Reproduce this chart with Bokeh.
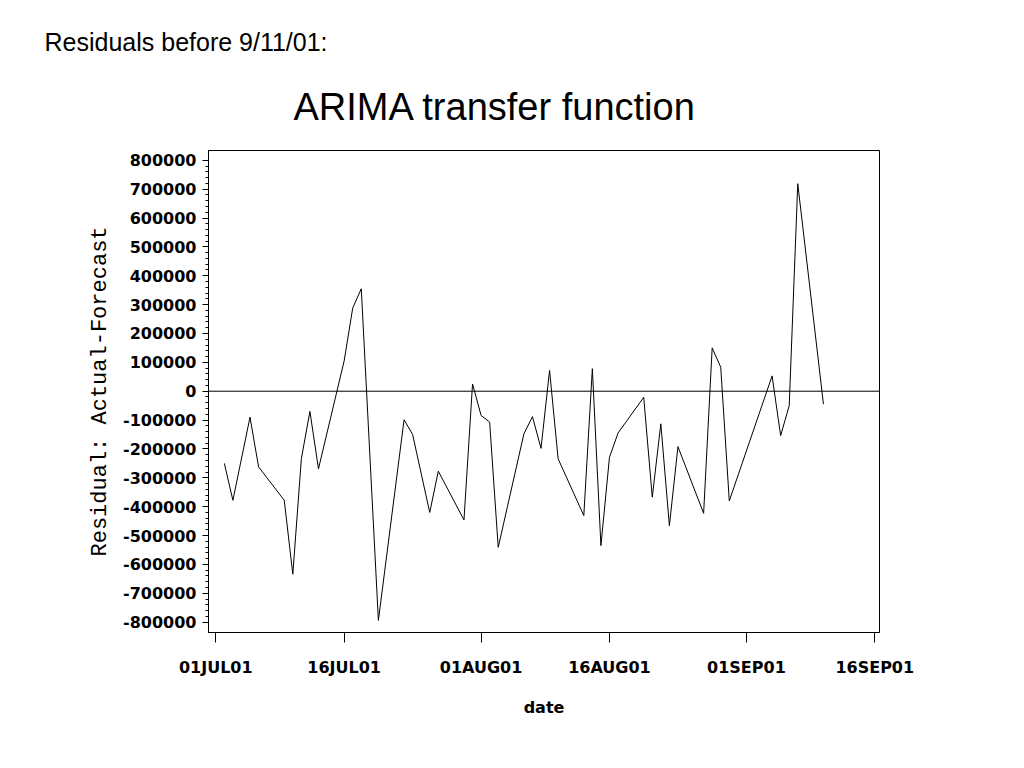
import pandas as pd
from bokeh.plotting import figure
from bokeh.models import Range1d, FixedTicker, Span, Title
from bokeh.embed import file_html
from bokeh.resources import INLINE

# ---- data ----
dates = [
    "2001-07-02", "2001-07-03", "2001-07-05", "2001-07-06", "2001-07-09",
    "2001-07-10", "2001-07-11", "2001-07-12", "2001-07-13", "2001-07-16",
    "2001-07-17", "2001-07-18", "2001-07-20", "2001-07-23", "2001-07-24",
    "2001-07-26", "2001-07-27", "2001-07-30", "2001-07-31", "2001-08-01",
    "2001-08-02", "2001-08-03", "2001-08-06", "2001-08-07", "2001-08-08",
    "2001-08-09", "2001-08-10", "2001-08-13", "2001-08-14", "2001-08-15",
    "2001-08-16", "2001-08-17", "2001-08-20", "2001-08-21", "2001-08-22",
    "2001-08-23", "2001-08-24", "2001-08-27", "2001-08-28", "2001-08-29",
    "2001-08-30", "2001-09-04", "2001-09-05", "2001-09-06", "2001-09-07",
    "2001-09-10",
]
residuals = [
    -250000, -378000, -90000, -262000, -378000,
    -634000, -234000, -70000, -269000, 105000,
    288000, 355000, -794000, -99000, -150000,
    -420000, -277000, -446000, 25000, -84000,
    -107000, -541000, -148000, -88000, -198000,
    72000, -234000, -431000, 78000, -535000,
    -229000, -145000, -21000, -367000, -113000,
    -466000, -192000, -423000, 150000, 83000,
    -380000, 53000, -154000, -50000, 719000,
    -45000,
]

x_tick_dates = ["2001-07-01", "2001-07-16", "2001-08-01", "2001-08-16", "2001-09-01", "2001-09-16"]
x_tick_labels = ["01JUL01", "16JUL01", "01AUG01", "16AUG01", "01SEP01", "16SEP01"]
y_ticks = [800000, 700000, 600000, 500000, 400000, 300000, 200000, 100000, 0,
           -100000, -200000, -300000, -400000, -500000, -600000, -700000, -800000]
y_tick_labels = ["800000", "700000", "600000", "500000", "400000", "300000", "200000",
                 "100000", "0", "-100000", "-200000", "-300000", "-400000", "-500000",
                 "-600000", "-700000", "-800000"]

page_title = "Residuals before 9/11/01:"
chart_title = "ARIMA transfer function"
x_label = "date"
y_label = "Residual: Actual-Forecast"

# ---- derived ----
origin = pd.Timestamp("2001-07-01")
days = [(pd.Timestamp(d) - origin).days for d in dates]
x_ticks = [(pd.Timestamp(d) - origin).days for d in x_tick_dates]
y_minor = list(range(-800000, 800001, 20000))

W_LEFT, W_RIGHT, W_TOP, W_BOTTOM = 208, 137, 150, 126
FW, FH = 671, 482

p = figure(frame_width=FW, frame_height=FH,
           min_border_left=W_LEFT, min_border_right=W_RIGHT,
           min_border_top=W_TOP, min_border_bottom=W_BOTTOM,
           x_range=Range1d(-0.85, 77.55), y_range=Range1d(-836000, 834000),
           title=None, output_backend="svg", toolbar_location=None)
p.xgrid.visible = False
p.ygrid.visible = False
p.outline_line_color = "black"
p.outline_line_width = 1
p.background_fill_color = "white"
p.border_fill_color = "white"

p.line(days, residuals, line_color="black", line_width=1)
p.add_layout(Span(location=0, dimension="width", line_color="black", line_width=1))

# y axis
ya = p.yaxis[0]
ya.ticker = FixedTicker(ticks=y_ticks, minor_ticks=y_minor)
ya.major_label_overrides = {t: s for t, s in zip(y_ticks, y_tick_labels)}
ya.major_tick_out = 6
ya.major_tick_in = 0
ya.minor_tick_out = 3
ya.minor_tick_in = 0
ya.major_label_standoff = 6
ya.major_label_text_font = "DejaVu Sans"
ya.major_label_text_font_style = "bold"
ya.major_label_text_font_size = "16px"
ya.major_label_text_color = "black"
ya.axis_label = y_label
ya.axis_label_text_font = "Liberation Mono"
ya.axis_label_text_font_style = "normal"
ya.axis_label_text_font_size = "22px"
ya.axis_label_text_color = "black"
ya.axis_label_standoff = 7
ya.axis_line_color = "black"
ya.major_tick_line_color = "black"
ya.minor_tick_line_color = "black"

# x axis
xa = p.xaxis[0]
xa.ticker = FixedTicker(ticks=x_ticks, minor_ticks=[])
xa.major_label_overrides = {t: s for t, s in zip(x_ticks, x_tick_labels)}
xa.major_tick_out = 10
xa.major_tick_in = 0
xa.minor_tick_out = 0
xa.minor_tick_line_color = None
xa.major_label_standoff = 15
xa.major_label_text_font = "DejaVu Sans"
xa.major_label_text_font_style = "bold"
xa.major_label_text_font_size = "16px"
xa.major_label_text_color = "black"
xa.axis_label = x_label
xa.axis_label_text_font = "DejaVu Sans"
xa.axis_label_text_font_style = "bold"
xa.axis_label_text_font_size = "16px"
xa.axis_label_text_color = "black"
xa.axis_label_standoff = 18
xa.axis_line_color = "black"
xa.major_tick_line_color = "black"

# chart title (closest to the frame), then the page heading above it
p.add_layout(Title(text=chart_title, align="left", offset=85,
                   text_font="Liberation Sans", text_font_size="38px",
                   text_font_style="normal", text_color="black", standoff=46), "above")
p.add_layout(Title(text=page_title, align="left", offset=-164,
                   text_font="Liberation Sans", text_font_size="25px",
                   text_font_style="normal", text_color="black", standoff=9), "above")

open("out.html", "w").write(file_html(p, INLINE))
